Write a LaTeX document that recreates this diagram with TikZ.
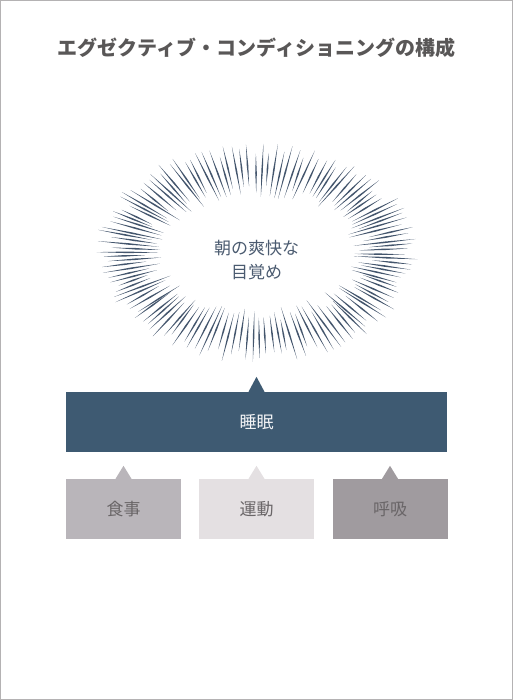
\documentclass[tikz,border=0pt]{standalone}
\usepackage{fontspec}
\newfontfamily\cjk{Noto Sans CJK JP}
\usetikzlibrary{calc}
\definecolor{framegray}{HTML}{B4B2B3}
\definecolor{titlegray}{HTML}{595757}
\definecolor{burstcol}{HTML}{44566D}
\definecolor{bursttext}{HTML}{4B5B70}
\definecolor{sleepcol}{HTML}{3E5A72}
\definecolor{boxa}{HTML}{B9B5BA}
\definecolor{boxb}{HTML}{E4E0E2}
\definecolor{boxc}{HTML}{A09B9F}
\definecolor{boxtext}{HTML}{6A6668}
\tikzset{
  burst/.style={fill=burstcol},
  bigbox/.style={fill=sleepcol, minimum width=381pt, minimum height=60pt, inner sep=0pt,
    text=white!94!sleepcol, font=\cjk\fontsize{17}{20}\selectfont},
  smallbox/.style={minimum width=115pt, minimum height=60pt, inner sep=0pt,
    text=boxtext, font=\cjk\fontsize{17}{20}\selectfont},
}
\begin{document}
\begin{tikzpicture}[x=1pt,y=-1pt]
\useasboundingbox (0,0) rectangle (513,700);
\draw[framegray, line width=1.2pt] (0.6,0.6) rectangle (512.4,699.4);

\node[text=titlegray, font=\cjk\bfseries\fontsize{20}{24}\selectfont] (title) at (256.5,48) {エグゼクティブ・コンディショニングの構成};

% burst
\pgfmathsetseed{7}
\foreach \i in {0,...,129}{
  \pgfmathsetmacro\t{\i*2.76923+rnd*1.0}
  \pgfmathsetmacro\ri{0.86+0.2*rnd}
  \pgfmathsetmacro\ro{0.89+0.11*rnd}
  \coordinate (A) at ({257+110*\ri*cos(\t)},{253+64*\ri*sin(\t)});
  \coordinate (B) at ({257+163*\ro*cos(\t)},{253+111*\ro*sin(\t)});
  \fill[burst] (A) -- ($(A)!0.5!(B)!0.8pt!90:(B)$) -- (B) -- ($(A)!0.5!(B)!0.8pt!-90:(B)$) -- cycle;
}
\node[text=bursttext, font=\cjk\fontsize{17}{24}\selectfont, align=center] (goal) at (256.5,260) {朝の爽快な\\目覚め};

% sleep bar
\node[bigbox] (sleep) at (256.5,422) {睡眠};
\fill[sleepcol] ($(sleep.north)+(-8,0)$) -- ($(sleep.north)+(0,-15)$) -- ($(sleep.north)+(8,0)$) -- cycle;

% small boxes
\node[smallbox, fill=boxa] (food) at (123.5,509) {食事};
\node[smallbox, fill=boxb] (exercise) at (256.5,509) {運動};
\node[smallbox, fill=boxc] (breath) at (390,509) {呼吸};
\foreach \b/\c in {food/boxa, exercise/boxb, breath/boxc}{
  \fill[\c] ($(\b.north)+(-8,0)$) -- ($(\b.north)+(0,-13)$) -- ($(\b.north)+(8,0)$) -- cycle;
}
\end{tikzpicture}
\end{document}
